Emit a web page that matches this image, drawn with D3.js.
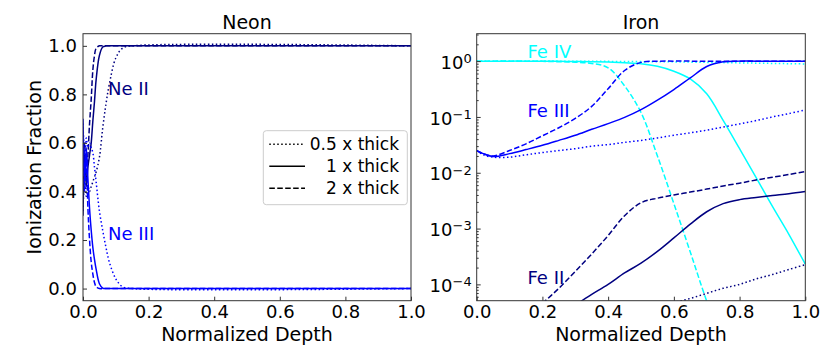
<!DOCTYPE html>
<html>
<head>
<meta charset="utf-8">
<script src="https://cdn.jsdelivr.net/npm/d3@7"></script>
<style>
  body { margin: 0; background: #fff; }
  text { font-family: "DejaVu Sans", sans-serif; }
</style>
</head>
<body>
<div id="my_dataviz"></div>
<script>
// ---- data ----
var neonDepth = [0, 0.005, 0.01, 0.015, 0.02, 0.025, 0.03, 0.035, 0.04, 0.05, 0.06, 0.07, 0.08, 0.1, 0.12, 0.15, 1.0];
var neIIhalf  = [0.32, 0.45, 0.38, 0.42, 0.40, 0.42, 0.44, 0.46, 0.48, 0.54, 0.66, 0.76, 0.84, 0.95, 0.99, 1.0, 1.0];
var neIIone   = [0.30, 0.55, 0.42, 0.50, 0.55, 0.60, 0.69, 0.77, 0.86, 0.96, 0.995, 1.0, 1.0, 1.0, 1.0, 1.0, 1.0];
var neIItwo   = [0.35, 0.60, 0.45, 0.55, 0.68, 0.78, 0.90, 0.96, 0.99, 1.0, 1.0, 1.0, 1.0, 1.0, 1.0, 1.0, 1.0];
var neIIIhalf = [0.68, 0.55, 0.62, 0.58, 0.60, 0.58, 0.56, 0.50, 0.44, 0.32, 0.24, 0.17, 0.11, 0.04, 0.008, 0.0, 0.0];
var neIIIone  = [0.70, 0.45, 0.58, 0.45, 0.33, 0.24, 0.17, 0.12, 0.08, 0.02, 0.002, 0.0, 0.0, 0.0, 0.0, 0.0, 0.0];
var neIIItwo  = [0.65, 0.40, 0.55, 0.33, 0.20, 0.11, 0.06, 0.025, 0.008, 0.0, 0.0, 0.0, 0.0, 0.0, 0.0, 0.0, 0.0];

var ironDepth = [0, 0.02, 0.05, 0.1, 0.15, 0.2, 0.25, 0.3, 0.35, 0.4, 0.45, 0.5, 0.55, 0.6, 0.65, 0.7, 0.75, 0.8, 0.85, 0.9, 0.95, 1.0];
var feIVhalf  = [1, 1, 1, 1, 1, 1, 1, 0.995, 0.99, 0.99, 0.985, 0.98, 0.975, 0.97, 0.96, 0.95, 0.94, 0.93, 0.92, 0.91, 0.90, 0.89];
var feIVone   = [1, 1, 1, 1, 1, 0.995, 0.99, 0.985, 0.975, 0.96, 0.935, 0.90, 0.81, 0.66, 0.48, 0.26, 0.087, 0.027, 0.0083, 0.0025, 0.00079, 0.00023];
var feIVtwo   = [1, 1, 1, 1, 0.995, 0.99, 0.975, 0.955, 0.91, 0.76, 0.36, 0.12, 0.02, 0.0028, 0.00038, 0.00005, 0.0000085, null, null, null, null, null];
var feIIIhalf = [0.025, 0.021, 0.019, 0.019, 0.021, 0.023, 0.025, 0.027, 0.030, 0.032, 0.035, 0.038, 0.042, 0.047, 0.052, 0.058, 0.066, 0.075, 0.086, 0.10, 0.115, 0.133];
var feIIIone  = [0.025, 0.022, 0.0195, 0.022, 0.026, 0.031, 0.038, 0.047, 0.060, 0.076, 0.098, 0.135, 0.20, 0.31, 0.50, 0.80, 0.97, 1.0, 1.0, 1.0, 1.0, 1.0];
var feIIItwo  = [0.025, 0.022, 0.020, 0.025, 0.033, 0.046, 0.064, 0.094, 0.155, 0.32, 0.68, 0.95, 0.995, 1.0, 1.0, 1.0, 1.0, 1.0, 1.0, 1.0, 1.0, 1.0];
var feIIhalf  = [null, null, null, null, null, null, null, null, null, null, null, null, 0.000039, 0.000047, 0.000056, 0.000069, 0.000085, 0.0001, 0.000125, 0.00015, 0.000185, 0.000225];
var feIIone   = [null, null, null, null, null, null, 0.00003, 0.000043, 0.000066, 0.0001, 0.00016, 0.00024, 0.00039, 0.00068, 0.0012, 0.0020, 0.0028, 0.0033, 0.0036, 0.0039, 0.0042, 0.0046];
var feIItwo   = [null, null, null, null, 0.000022, 0.000045, 0.000085, 0.00017, 0.00035, 0.00075, 0.0017, 0.0029, 0.0035, 0.0040, 0.0045, 0.0051, 0.0058, 0.0065, 0.0074, 0.0083, 0.0093, 0.0105];

var linearTicks = [0, 0.2, 0.4, 0.6, 0.8, 1.0];
var logTicks = [1e-4, 1e-3, 1e-2, 1e-1, 1e0];
var legendLabels = ["0.5 x thick", "1 x thick", "2 x thick"];

var navy = "#000080", blue = "#0000ff", cyan = "#00ffff";
var dashes = {half: "1.5,2.475", one: null, two: "5.55,2.4"};

var W = 830, H = 346;
var svg = d3.select("#my_dataviz").append("svg")
      .attr("width", W).attr("height", H);

var plotTop = 33.7, plotBottom = 300.7;
var panelL = {x0: 83, x1: 411};
var panelR = {x0: 476.7, x1: 805.3};

var defs = svg.append("defs");
defs.append("clipPath").attr("id", "clipL").append("rect")
      .attr("x", panelL.x0).attr("y", plotTop).attr("width", panelL.x1 - panelL.x0).attr("height", plotBottom - plotTop);
defs.append("clipPath").attr("id", "clipR").append("rect")
      .attr("x", panelR.x0).attr("y", plotTop).attr("width", panelR.x1 - panelR.x0).attr("height", plotBottom - plotTop);

// scales
var xL = d3.scaleLinear().domain([0, 1]).range([panelL.x0, panelL.x1]);
var yL = d3.scaleLinear().domain([-0.05, 1.05]).range([plotBottom, plotTop]);
var xR = d3.scaleLinear().domain([0, 1]).range([panelR.x0, panelR.x1]);
var yR = d3.scaleLog().domain([5.1e-5, 3.1]).range([plotBottom, plotTop]);

function drawSeries(g, depth, vals, x, y, color, dash) {
      var pts = depth.map(function (d, i) { return [d, vals[i]]; });
      g.append("path")
            .datum(pts)
            .attr("d", d3.line()
                  .defined(function (d) { return d[1] != null; })
                  .x(function (d) { return x(d[0]); })
                  .y(function (d) { return y(d[1]); })
                  .curve(d3.curveCatmullRom.alpha(0.5)))
            .attr("fill", "none")
            .attr("stroke", color)
            .attr("stroke-width", 1.5)
            .attr("stroke-dasharray", dash);
}

// ---- Neon ----
var gL = svg.append("g").attr("clip-path", "url(#clipL)");
drawSeries(gL, neonDepth, neIIhalf, xL, yL, navy, dashes.half);
drawSeries(gL, neonDepth, neIIone, xL, yL, navy, dashes.one);
drawSeries(gL, neonDepth, neIItwo, xL, yL, navy, dashes.two);
drawSeries(gL, neonDepth, neIIIhalf, xL, yL, blue, dashes.half);
drawSeries(gL, neonDepth, neIIIone, xL, yL, blue, dashes.one);
drawSeries(gL, neonDepth, neIIItwo, xL, yL, blue, dashes.two);

// ---- Iron ----
var gR = svg.append("g").attr("clip-path", "url(#clipR)");
drawSeries(gR, ironDepth, feIVhalf, xR, yR, cyan, dashes.half);
drawSeries(gR, ironDepth, feIVone, xR, yR, cyan, dashes.one);
drawSeries(gR, ironDepth, feIVtwo, xR, yR, cyan, dashes.two);
drawSeries(gR, ironDepth, feIIIhalf, xR, yR, blue, dashes.half);
drawSeries(gR, ironDepth, feIIIone, xR, yR, blue, dashes.one);
drawSeries(gR, ironDepth, feIIItwo, xR, yR, blue, dashes.two);
drawSeries(gR, ironDepth, feIIhalf, xR, yR, navy, dashes.half);
drawSeries(gR, ironDepth, feIIone, xR, yR, navy, dashes.one);
drawSeries(gR, ironDepth, feIItwo, xR, yR, navy, dashes.two);

// ---- axes ----
function styleAxis(g) {
      g.select(".domain").remove();
      g.selectAll("line").attr("stroke", "#333");
      g.selectAll("text").attr("font-size", 18).attr("fill", "#000")
            .attr("font-family", "DejaVu Sans, sans-serif");
}
var fmt = d3.format(".1f");

svg.append("g").attr("transform", "translate(0," + plotBottom + ")")
      .call(d3.axisBottom(xL).tickValues(linearTicks).tickFormat(fmt).tickSizeInner(-4).tickSizeOuter(0).tickPadding(5))
      .call(styleAxis);
svg.append("g").attr("transform", "translate(" + panelL.x0 + ",0)")
      .call(d3.axisLeft(yL).tickValues(linearTicks).tickFormat(fmt).tickSizeInner(-4).tickSizeOuter(0).tickPadding(6))
      .call(styleAxis);
svg.append("g").attr("transform", "translate(0," + plotBottom + ")")
      .call(d3.axisBottom(xR).tickValues(linearTicks).tickFormat(fmt).tickSizeInner(-4).tickSizeOuter(0).tickPadding(5))
      .call(styleAxis);

// log axis with minor ticks
var minor = [];
[-5, -4, -3, -2, -1, 0].forEach(function (k) {
      for (var m = 2; m <= 9; m++) {
            var v = m * Math.pow(10, k);
            if (v >= 5.1e-5 && v <= 3.1) minor.push(v);
      }
});
svg.append("g").attr("transform", "translate(" + panelR.x0 + ",0)")
      .call(d3.axisLeft(yR).tickValues(minor).tickFormat("").tickSizeInner(-2).tickSizeOuter(0))
      .call(styleAxis);
var yAxR = svg.append("g").attr("transform", "translate(" + panelR.x0 + ",0)")
      .call(d3.axisLeft(yR).tickValues(logTicks).tickFormat("").tickSizeInner(-4).tickSizeOuter(0).tickPadding(5))
      .call(styleAxis);
yAxR.selectAll(".tick text").each(function (d) {
      var t = d3.select(this).text(null);
      var e = Math.round(Math.log10(d));
      t.append("tspan").text("10");
      t.append("tspan").attr("dy", "-0.45em").attr("font-size", 13)
            .text(e < 0 ? "\u2212" + (-e) : "" + e);
});
yAxR.selectAll(".tick text").attr("dy", "0.4em");

// frames
[panelL, panelR].forEach(function (p) {
      svg.append("rect")
            .attr("x", p.x0).attr("y", plotTop)
            .attr("width", p.x1 - p.x0).attr("height", plotBottom - plotTop)
            .attr("fill", "none").attr("stroke", "#333").attr("stroke-width", 1);
});

// titles and labels
svg.append("text").attr("x", (panelL.x0 + panelL.x1) / 2).attr("y", 29.3)
      .attr("text-anchor", "middle").attr("font-size", 19).text("Neon");
svg.append("text").attr("x", (panelR.x0 + panelR.x1) / 2).attr("y", 29.3)
      .attr("text-anchor", "middle").attr("font-size", 19).text("Iron");
svg.append("text").attr("x", (panelL.x0 + panelL.x1) / 2).attr("y", 341)
      .attr("text-anchor", "middle").attr("font-size", 19).text("Normalized Depth");
svg.append("text").attr("x", (panelR.x0 + panelR.x1) / 2).attr("y", 341)
      .attr("text-anchor", "middle").attr("font-size", 19).text("Normalized Depth");
svg.append("text")
      .attr("transform", "translate(41," + (plotTop + plotBottom) / 2 + ") rotate(-90)")
      .attr("text-anchor", "middle").attr("font-size", 19).text("Ionization Fraction");

// ion labels
var ionLabels = [
      {t: "Ne II", x: 108, y: 95, c: navy},
      {t: "Ne III", x: 108, y: 240, c: blue},
      {t: "Fe IV", x: 527.5, y: 58.3, c: cyan},
      {t: "Fe III", x: 527.5, y: 117.3, c: blue},
      {t: "Fe II", x: 527.5, y: 284, c: navy}
];
ionLabels.forEach(function (d) {
      svg.append("text").attr("x", d.x).attr("y", d.y)
            .attr("font-size", 18).attr("fill", d.c).text(d.t);
});

// legend
var lg = svg.append("g");
lg.append("rect").attr("x", 263.3).attr("y", 130.7).attr("width", 144).attr("height", 74)
      .attr("rx", 3).attr("fill", "#fff").attr("fill-opacity", 0.8)
      .attr("stroke", "#cccccc").attr("stroke-width", 1);
var legDash = [dashes.half, dashes.one, dashes.two];
var rowY = [144.3, 166.2, 188.3];
legendLabels.forEach(function (lab, i) {
      lg.append("line").attr("x1", 269.3).attr("x2", 305).attr("y1", rowY[i]).attr("y2", rowY[i])
            .attr("stroke", "#000").attr("stroke-width", 1.5).attr("stroke-dasharray", legDash[i]);
      lg.append("text").attr("x", 399).attr("y", rowY[i]).attr("dy", "0.36em")
            .attr("text-anchor", "end").attr("font-size", 17).text(lab);
});
</script>
</body>
</html>
